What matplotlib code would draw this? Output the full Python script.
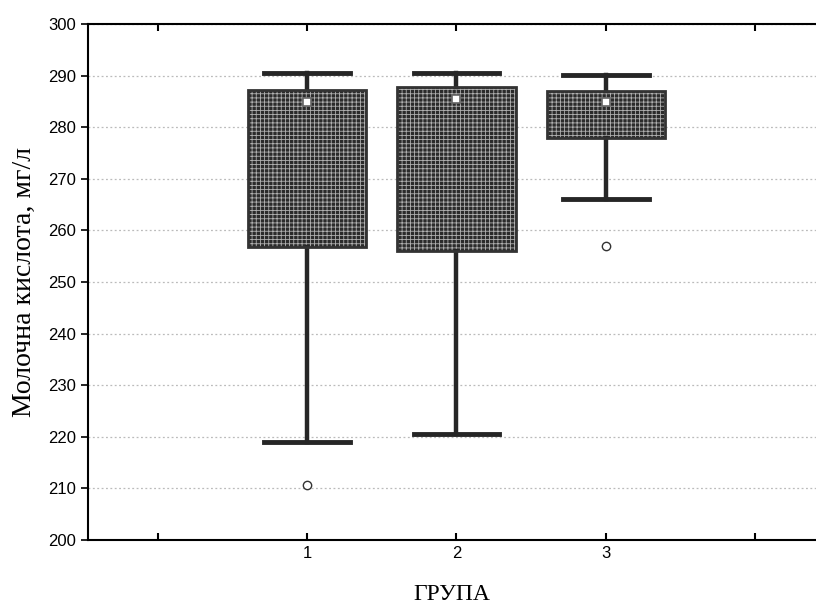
import numpy as np
import matplotlib.pyplot as plt
from matplotlib.patches import PathPatch

# values
groups = [1, 2, 3]
whisk_lo = [219.0, 220.5, 266.0]
q1 = [256.7, 256.0, 278.0]
med = [284.8, 285.4, 284.8]
q3 = [287.2, 287.8, 287.1]
whisk_hi = [290.5, 290.5, 290.2]
outliers = [[210.7], [], [256.9]]

yticks = list(range(200, 301, 10))
xticks = [0, 1, 2, 3, 4]
xticklabels = ['', '1', '2', '3', '']

plt.rcParams['hatch.linewidth'] = 0.6

fig = plt.figure(figsize=(8.16, 6.06), dpi=100)
ax = fig.add_axes([88/816, 1 - 540/606, (816 - 88)/816, (540 - 24)/606])

stats = []
for i in range(len(groups)):
    stats.append(dict(whislo=whisk_lo[i], q1=q1[i], med=med[i], q3=q3[i],
                      whishi=whisk_hi[i], fliers=outliers[i]))

res = ax.bxp(stats, positions=groups, widths=0.79, patch_artist=True,
             showfliers=True, capwidths=0.57,
             boxprops=dict(facecolor='#2b2b2b', edgecolor='#b0b0b0',
                           hatch='++++', linewidth=0),
             whiskerprops=dict(color='#262626', linewidth=3.2),
             capprops=dict(color='#262626', linewidth=3.5),
             medianprops=dict(linestyle='none'),
             flierprops=dict(marker='o', markersize=6, markerfacecolor='white',
                             markeredgecolor='#333333', markeredgewidth=1.0),
             zorder=3)

for b in res['boxes']:
    b.set_zorder(3)
    ax.add_patch(PathPatch(b.get_path(), transform=b.get_transform(),
                           fill=False, edgecolor='#333333', linewidth=2, zorder=4))

ax.plot(groups, med, linestyle='none', marker='s', markersize=6,
        markerfacecolor='white', markeredgecolor='#666666', markeredgewidth=1.2,
        zorder=5)

ax.set_xlim(-0.465, 4.405)
ax.set_ylim(200, 300)
ax.set_yticks(yticks)
ax.set_xticks(xticks)
ax.set_xticklabels(xticklabels)

ax.yaxis.grid(True, linestyle=(0, (1.5, 2)), color='#bbbbbb', linewidth=0.9)
ax.set_axisbelow(True)

for s in ['left', 'top', 'bottom']:
    ax.spines[s].set_linewidth(1.5)
ax.spines['right'].set_visible(False)

ax.tick_params(axis='x', direction='in', top=True, length=5, width=1.5,
               labelsize=12, pad=4)
ax.tick_params(axis='y', direction='out', length=5, width=1.2, labelsize=12)
for lab in ax.get_xticklabels() + ax.get_yticklabels():
    lab.set_family('Liberation Sans')

ax.set_ylabel('Молочна кислота, мг/л', family='Liberation Serif', fontsize=20,
              labelpad=8)
ax.set_xlabel('ГРУПА', family='Liberation Serif', fontsize=17, labelpad=17)

fig.savefig('out.png', dpi=100)
